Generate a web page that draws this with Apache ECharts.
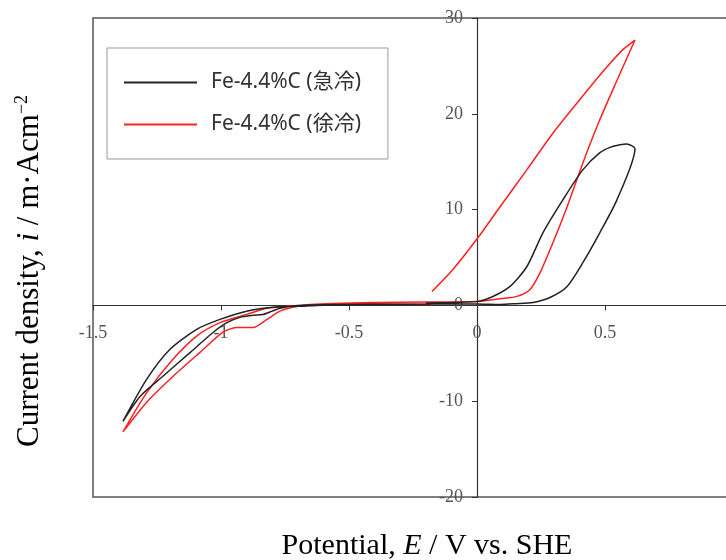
<!DOCTYPE html>
<html>
<head>
<meta charset="utf-8">
<script src="https://cdn.jsdelivr.net/npm/echarts@6/dist/echarts.min.js"></script>
<style>html,body{margin:0;padding:0;background:#fff;overflow:hidden}#c{width:740px;height:560px}</style>
</head>
<body>
<div id="c"></div>
<script>
// ---- data (potential V vs SHE, current density mA/cm2) ----
var seriesNames = ['Fe-4.4%C (急冷)', 'Fe-4.4%C (徐冷)'];
var xTicks = [-1.5, -1, -0.5, 0, 0.5];
var yTicks = [-20, -10, 0, 10, 20, 30];
var xMaxFrame = 1.0; // frame right edge (cropped out of view)

// quenched (black)
var quenchDown = [[-0.2,0.12],[-0.4,0.08],[-0.6,0.02],[-0.7,-0.1],[-0.797,-0.2],[-0.9,-0.6],[-1.004,-1.46],[-1.095,-2.5],[-1.2,-4.6],[-1.29,-7.7],[-1.383,-12.1]];
var quenchUp = [[-1.316,-9.5],[-1.227,-7.4],[-1.12,-4.9],[-1.03,-2.8],[-0.977,-1.8],[-0.926,-1.25],[-0.875,-1.04],[-0.836,-0.94],[-0.8,-0.6],[-0.77,-0.3],[-0.7,0.0],[-0.5,0.1],[-0.3,0.12],[0,0.15]];
var quenchAnodicFwd = [[0.09,0.1],[0.15,0.18],[0.219,0.31],[0.285,0.83],[0.352,1.98],[0.414,4.48],[0.48,7.6],[0.547,11.04],[0.617,16.35]];
var quenchAnodicRev = [[0.585,16.85],[0.559,16.77],[0.52,16.5],[0.48,15.94],[0.414,14.17],[0.336,11.04],[0.258,7.6],[0.195,4.06],[0.129,1.98],[0.06,0.9],[0.004,0.42],[-0.1,0.3],[-0.2,0.25]];

// slow-cooled (red)
var slowDown = [[-0.18,0.1],[-0.4,0.15],[-0.6,0.1],[-0.74,-0.1],[-0.82,-0.3],[-0.9,-0.94],[-1.004,-1.8],[-1.095,-3.2],[-1.187,-5.6],[-1.29,-9.1],[-1.383,-13.2]];
var slowUp = [[-1.29,-10.1],[-1.187,-7.4],[-1.082,-4.9],[-0.992,-2.8],[-0.94,-2.3],[-0.875,-2.3],[-0.82,-1.46],[-0.77,-0.6],[-0.72,-0.2],[-0.65,0.1],[-0.4,0.3],[-0.2,0.35],[0,0.4]];
var slowAnodicFwd = [[0.09,0.7],[0.156,0.94],[0.207,1.67],[0.246,3.4],[0.297,6.56],[0.352,10.3],[0.414,14.9],[0.48,19.4],[0.547,23.5],[0.617,27.7]];
var slowAnodicRev = [[0.57,26.7],[0.508,24.9],[0.402,21.5],[0.297,18.0],[0.195,14.17],[0.09,10.3],[0.004,7.08],[-0.094,3.75],[-0.176,1.46]];

var quenched = quenchDown.concat(quenchUp, quenchAnodicFwd, quenchAnodicRev);
var slow = slowDown.concat(slowUp, slowAnodicFwd, slowAnodicRev);

// layout
var gridLeft = 93, gridTop = 18, gridW = 640, gridH = 479;
var xMin = xTicks[0], xMax = xMaxFrame;
var yMin = yTicks[0], yMax = yTicks[yTicks.length - 1];
var xAxisOffset = -gridH * (0 - yMin) / (yMax - yMin);   // move x axis up to y = 0
var yAxisOffset = -gridW * (0 - xMin) / (xMax - xMin);   // move y axis right to x = 0

var chart = echarts.init(document.getElementById('c'), null, {renderer: 'canvas'});
var serif = 'Liberation Serif, Times New Roman, serif';
chart.setOption({
  animation: false,
  backgroundColor: '#fff',
  grid: {left: gridLeft, top: gridTop, width: gridW, height: gridH, show: true, borderColor: '#555', borderWidth: 1.5, backgroundColor: 'transparent'},
  legend: {
    orient: 'vertical', left: 107, top: 48,
    padding: [24, 27, 24, 16], itemWidth: 73, itemHeight: 14, itemGap: 21,
    borderColor: '#999', borderWidth: 1,
    data: seriesNames,
    itemStyle: {opacity: 0},
    lineStyle: {width: 2},
    textStyle: {fontFamily: 'Noto Sans, Noto Sans CJK JP, sans-serif', fontSize: 21, color: '#333', lineHeight: 14, padding: [0, 0, 0, 9]}
  },
  xAxis: {
    type: 'value', min: xMin, max: xMax, interval: 0.5, position: 'bottom', offset: xAxisOffset,
    axisLine: {onZero: false, lineStyle: {color: '#333', width: 1.2}},
    axisTick: {show: true, length: 5, lineStyle: {color: '#333'}},
    axisLabel: {margin: 19, fontFamily: serif, fontSize: 18, color: '#555', showMaxLabel: false,
      formatter: function (v) { return xTicks.indexOf(v) >= 0 ? String(v) : ''; }},
    splitLine: {show: false}
  },
  yAxis: {
    type: 'value', min: yMin, max: yMax, interval: 10, position: 'left', offset: yAxisOffset,
    axisLine: {onZero: false, lineStyle: {color: '#333', width: 1.2}},
    axisTick: {show: true, length: 5, lineStyle: {color: '#333'}},
    axisLabel: {margin: 14, fontFamily: serif, fontSize: 18, color: '#555'},
    splitLine: {show: false}
  },
  series: [
    {name: seriesNames[0], type: 'line', data: quenched, symbol: 'none', smooth: 0.25, color: '#222', lineStyle: {color: '#222', width: 1.5}, z: 3},
    {name: seriesNames[1], type: 'line', data: slow, symbol: 'none', smooth: 0.25, color: '#ff2020', lineStyle: {color: '#ff2020', width: 1.5}, z: 2}
  ],
  graphic: [
    {type: 'text', x: 427, y: 546, style: {text: '{a|Potential, }{i|E}{a| / V vs. SHE}', align: 'center', verticalAlign: 'middle',
      rich: {a: {fontFamily: serif, fontSize: 30, color: '#222'}, i: {fontFamily: serif, fontSize: 30, fontStyle: 'italic', color: '#222'}}}},
    {type: 'text', x: 30, y: 271, rotation: Math.PI / 2, style: {text: '{a|Current density, }{i|i}{a| / m·Acm}{s|−2}', align: 'center', verticalAlign: 'middle',
      rich: {a: {fontFamily: serif, fontSize: 31, color: '#222', lineHeight: 34}, i: {fontFamily: serif, fontSize: 31, fontStyle: 'italic', color: '#222', lineHeight: 34}, s: {fontFamily: serif, fontSize: 18, color: '#222', verticalAlign: 'top', lineHeight: 34}}}}
  ]
});
</script>
</body>
</html>
